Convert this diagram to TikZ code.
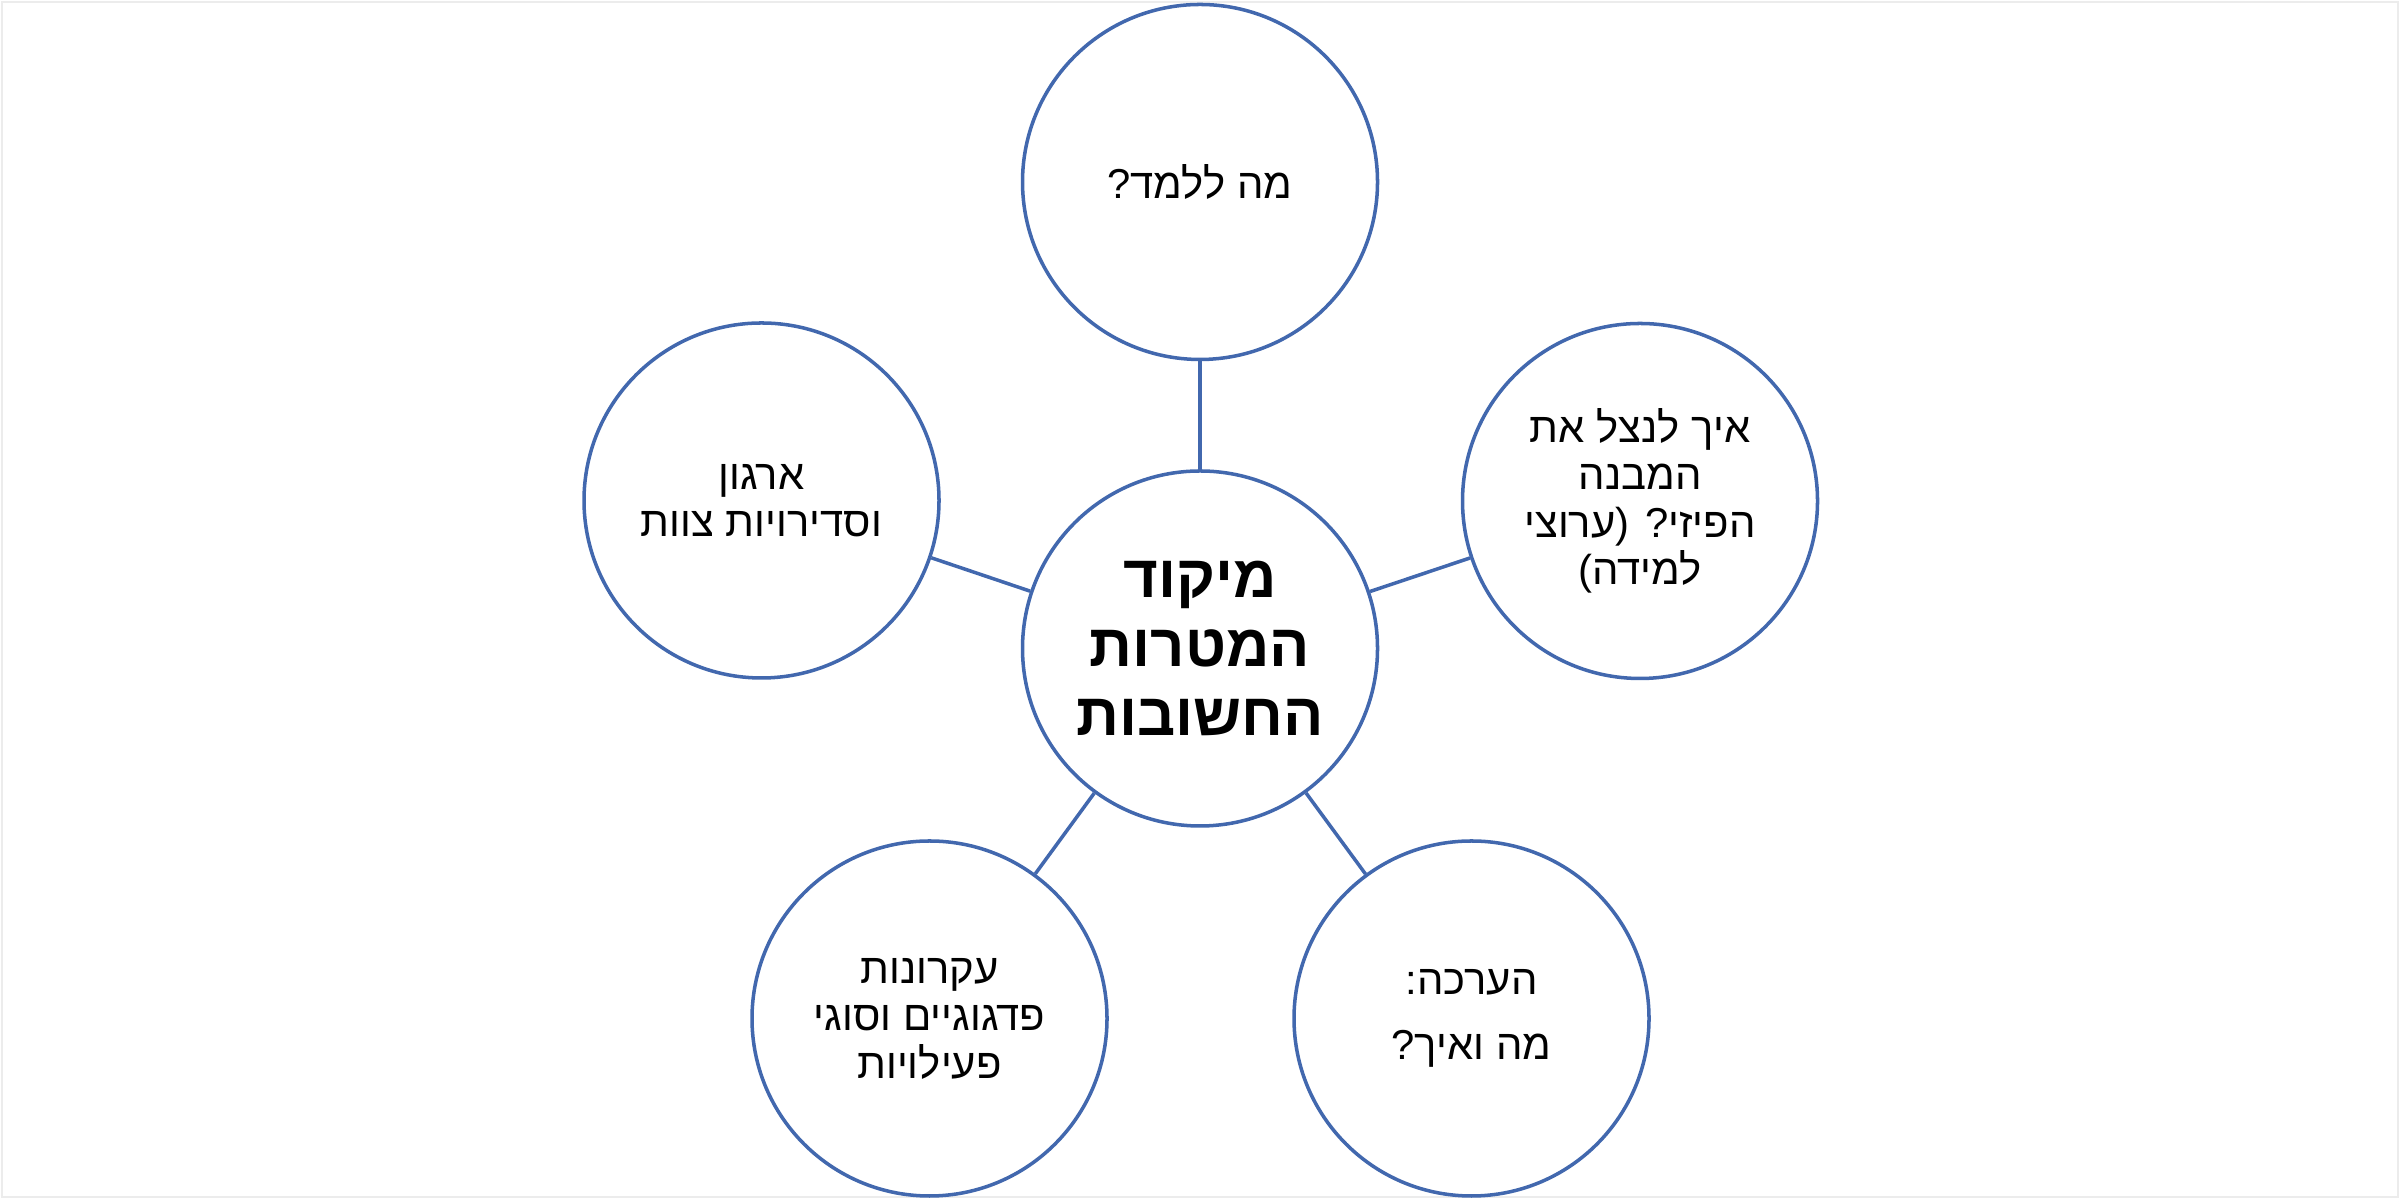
\documentclass[tikz,border=0pt]{standalone}
\usepackage{fontspec}
\setmainfont{Liberation Sans}[Script=Hebrew]
\TeXXeTstate=1
\newcommand{\heb}[1]{\beginR #1\endR}
\definecolor{ringblue}{RGB}{66,104,174}

\begin{document}
\begin{tikzpicture}
      [topic/.style={circle, draw=ringblue, fill=white, line width=1pt,
        minimum size=3.55cm, inner sep=0pt, align=center,
        font=\fontsize{11.9}{13.5}\selectfont},
      goal/.style={topic, font=\fontsize{17}{19.5}\selectfont\bfseries},
      link/.style={-, draw=ringblue, line width=1pt}]
      \useasboundingbox (0,0) rectangle (24,11.99);
      \draw[gray!15, line width=0.6pt] (0.02,0.02) rectangle (23.98,11.97);
      \node (focus) at (12, 5.505) [goal] {\heb{מיקוד}\\\heb{המטרות}\\\heb{החשובות}};
      \node (teach) at (12, 10.17) [topic] {\heb{מה ללמד?}}
      edge[link] (focus);
      \node (space) at (16.40, 6.98) [topic]
        {\heb{איך לנצל את}\\\heb{המבנה}\\\heb{הפיזי? (ערוצי}\\\heb{למידה)}}
      edge[link] (focus);
      \node (assess) at (14.715, 1.805) [topic] {\heb{הערכה:}\\[5pt]\heb{מה ואיך?}}
      edge[link] (focus);
      \node (pedagogy) at (9.295, 1.805) [topic]
        {\heb{עקרונות}\\\heb{פדגוגיים וסוגי}\\\heb{פעילויות}}
      edge[link] (focus);
      \node (org) at (7.615, 6.985) [topic] {\heb{ארגון}\\\heb{וסדירויות צוות}}
      edge[link] (focus);
    \end{tikzpicture}
\end{document}
